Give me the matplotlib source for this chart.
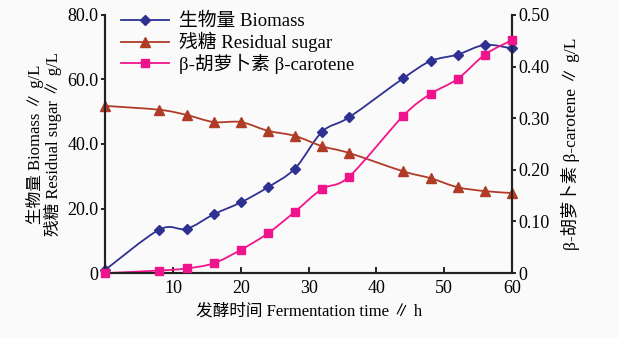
import matplotlib
matplotlib.use("Agg")
import matplotlib.pyplot as plt
from matplotlib.lines import Line2D
from matplotlib.path import Path
from matplotlib.patches import PathPatch
from matplotlib.ticker import FixedLocator, FixedFormatter

plt.rcParams['font.family'] = ['Liberation Serif', 'Noto Sans CJK SC', 'DejaVu Sans']

# fermentation data
time_h = [0, 8, 12, 16, 20, 24, 28, 32, 36, 44, 48, 52, 56, 60]
biomass = [1.0, 13.5, 13.7, 18.2, 21.9, 26.6, 32.4, 43.8, 48.3, 60.4, 65.7, 67.7, 70.7, 69.6]
sugar = [51.8, 50.6, 49.0, 46.8, 46.8, 44.1, 42.5, 39.3, 37.2, 31.5, 29.4, 26.6, 25.4, 24.8]
carotene = [0.0, 0.005, 0.009, 0.019, 0.045, 0.077, 0.119, 0.163, 0.187, 0.305, 0.347, 0.376, 0.423, 0.451]

x_ticks = [10, 20, 30, 40, 50, 60]
left_ticks = [0, 20, 40, 60, 80]
left_labels = ["0", "20.0", "40.0", "60.0", "80.0"]
right_ticks = [0, 0.1, 0.2, 0.3, 0.4, 0.5]
right_labels = ["0", "0.10", "0.20", "0.30", "0.40", "0.50"]


def smooth_path(xs, ys, k=0.16):
    # Catmull-Rom style bezier through the data points (Excel "smoothed line")
    n = len(xs)
    verts = [(xs[0], ys[0])]
    codes = [Path.MOVETO]
    for i in range(n - 1):
        i0 = max(i - 1, 0)
        i3 = min(i + 2, n - 1)
        c1 = (xs[i] + (xs[i + 1] - xs[i0]) * k, ys[i] + (ys[i + 1] - ys[i0]) * k)
        c2 = (xs[i + 1] - (xs[i3] - xs[i]) * k, ys[i + 1] - (ys[i3] - ys[i]) * k)
        verts += [c1, c2, (xs[i + 1], ys[i + 1])]
        codes += [Path.CURVE4] * 3
    return Path(verts, codes)


fig = plt.figure(figsize=(6.19, 3.38), dpi=100)
fig.patch.set_facecolor('#fafafa')
ax = fig.add_axes([0.170, 0.192, 0.657, 0.764])
ax.set_facecolor('none')
ax2 = ax.twinx()

series = [
    (ax, biomass, '#2e3192', 'D', 5, '生物量 Biomass'),
    (ax, sugar, '#b03c28', '^', 7.5, '残糖 Residual sugar'),
    (ax2, carotene, '#f0148c', 's', 5.5, 'β-胡萝卜素 β-carotene'),
]
handles = []
for a, vals, col, mk, ms, lab in series:
    a.add_patch(PathPatch(smooth_path(time_h, vals), facecolor='none', edgecolor=col, lw=1.3))
    a.plot(time_h, vals, ls='none', marker=mk, markersize=ms, color=col, clip_on=False, zorder=3)
    handles.append(Line2D([], [], color=col, marker=mk, markersize=ms, lw=1.3, label=lab))

ax.set_xlim(0, 60)
ax.set_ylim(0, 80)
ax2.set_ylim(0, 0.5)

ax.xaxis.set_major_locator(FixedLocator(x_ticks))
ax.yaxis.set_major_locator(FixedLocator(left_ticks))
ax.yaxis.set_major_formatter(FixedFormatter(left_labels))
ax2.yaxis.set_major_locator(FixedLocator(right_ticks))
ax2.yaxis.set_major_formatter(FixedFormatter(right_labels))

for a in (ax, ax2):
    a.spines['top'].set_visible(False)
    for s in a.spines.values():
        s.set_linewidth(1.5)
        s.set_color('#222222')
ax.tick_params(axis='x', direction='in', length=4, width=1.2, labelsize=13, pad=5)
ax.tick_params(axis='y', direction='out', length=3, width=1.2, labelsize=13, pad=2)
ax2.tick_params(axis='y', direction='out', length=3, width=1.2, labelsize=13, pad=2)

ax.set_xlabel('发酵时间 Fermentation time ∥ h', fontsize=12, labelpad=5)
ax.set_ylabel('生物量 Biomass ∥ g/L\n残糖 Residual sugar ∥ g/L', fontsize=12, labelpad=4, linespacing=1.0)
ax2.set_ylabel('β-胡萝卜素 β-carotene ∥ g/L', fontsize=12.5, labelpad=8)

ax.legend(handles=handles, loc='upper left', bbox_to_anchor=(0.01, 1.05), frameon=False,
          fontsize=13.5, handlelength=2.6, labelspacing=0.08, borderaxespad=0.2, handletextpad=0.5)

fig.savefig('out.png', dpi=100, facecolor=fig.get_facecolor())
